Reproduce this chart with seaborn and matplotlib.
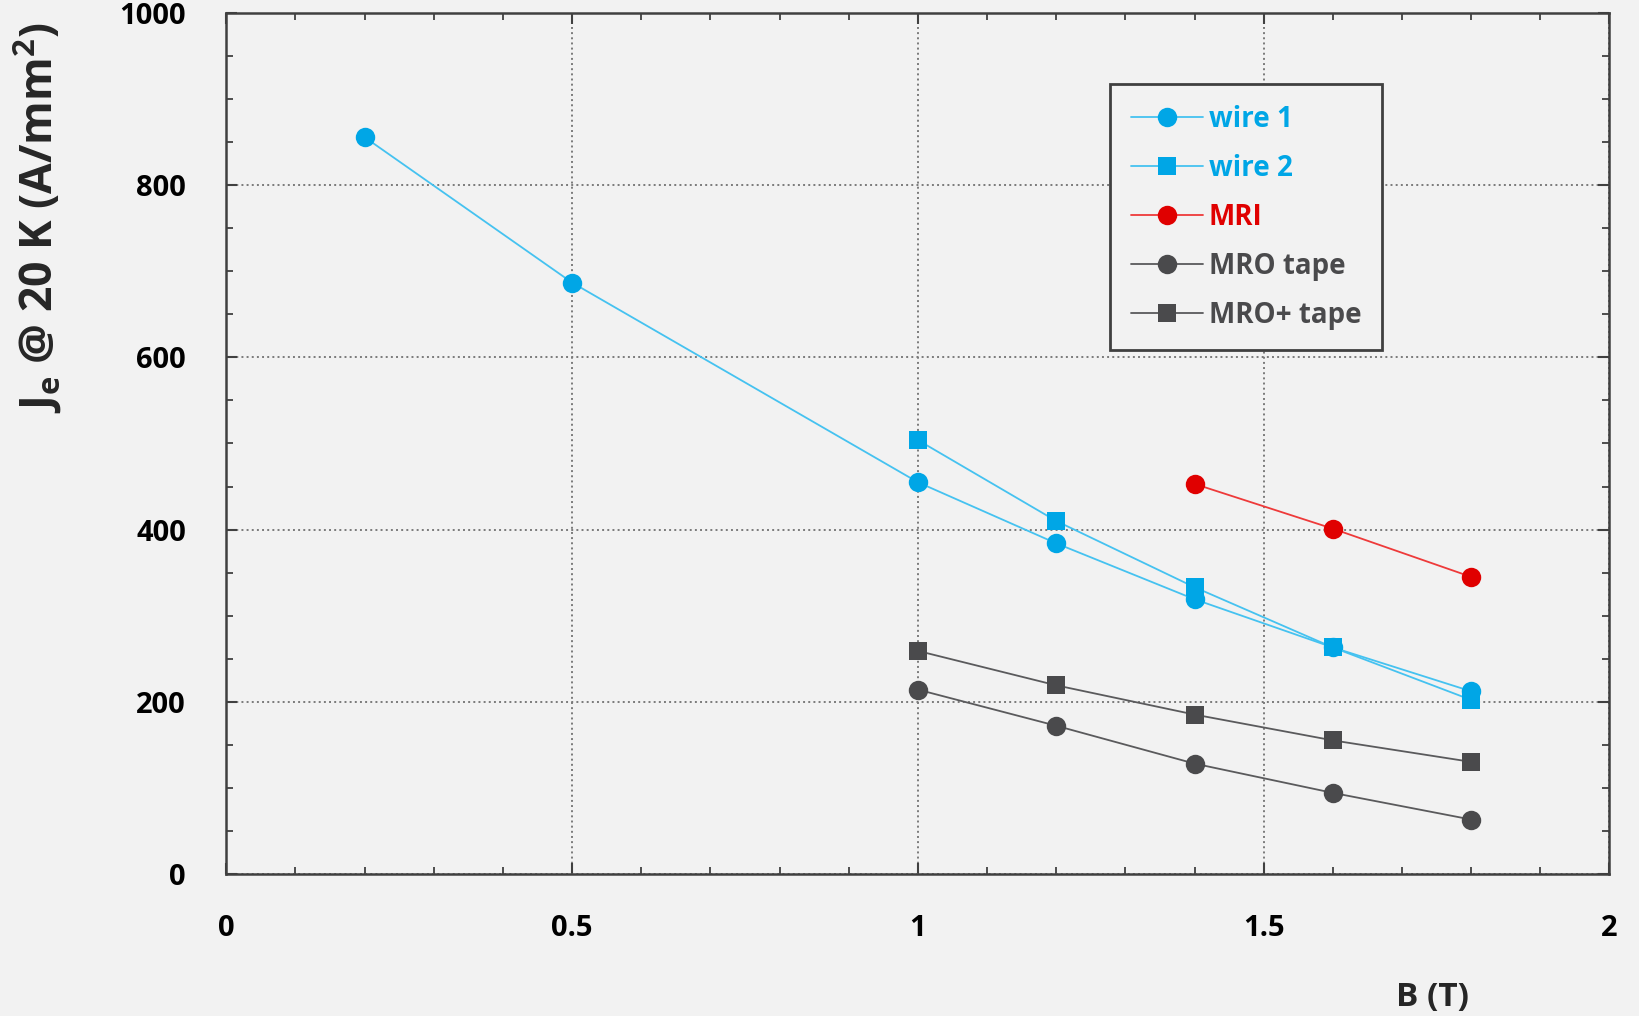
import numpy as np
import pandas as pd
import matplotlib
matplotlib.use("Agg")
import matplotlib.pyplot as plt
from matplotlib.ticker import MultipleLocator
import seaborn as sns

# ── datos ────────────────────────────────────────────────────────────────────
b_wire1 = [0.2, 0.5, 1.0, 1.2, 1.4, 1.6, 1.8]
je_wire1 = [856, 687, 455, 384, 319, 263, 212]

b_wire2 = [1.0, 1.2, 1.4, 1.6, 1.8]
je_wire2 = [504, 410, 333, 263, 202]

b_mri = [1.4, 1.6, 1.8]
je_mri = [453, 401, 345]

b_mro = [1.0, 1.2, 1.4, 1.6, 1.8]
je_mro = [214, 172, 128, 94, 63]

b_mro_plus = [1.0, 1.2, 1.4, 1.6, 1.8]
je_mro_plus = [259, 219, 185, 155, 130]

labels = ["wire 1", "wire 2", "MRI", "MRO tape", "MRO+ tape"]

BG = "#f2f2f2"
BLUE = "#00a6e6"
RED = "#e00000"
GRAY = "#4a4a4c"

sns.set_theme(style="ticks")
plt.rcParams["font.family"] = ["Open Sans", "DejaVu Sans"]
plt.rcParams["font.weight"] = "bold"
plt.rcParams["mathtext.fontset"] = "custom"
plt.rcParams["mathtext.rm"] = "Open Sans:bold"
plt.rcParams["mathtext.bf"] = "Open Sans:bold"
plt.rcParams["mathtext.it"] = "Open Sans:bold"
plt.rcParams["mathtext.default"] = "bf"

fig = plt.figure(figsize=(16.39, 10.16), dpi=100, facecolor=BG)
ax = fig.add_axes([0.138, 0.140, 0.844, 0.847])
ax.set_facecolor(BG)

series = [
    (b_wire1, je_wire1, "o", BLUE, "#45c2f0", 14),
    (b_wire2, je_wire2, "s", BLUE, "#45c2f0", 13),
    (b_mri, je_mri, "o", RED, "#ee3a3a", 14),
    (b_mro, je_mro, "o", GRAY, "#5a5a5c", 14),
    (b_mro_plus, je_mro_plus, "s", GRAY, "#5a5a5c", 13),
]

for (xs, ys, mk, mcol, lcol, ms), lab in zip(series, labels):
    sns.lineplot(x=xs, y=ys, ax=ax, color=lcol, linewidth=1.3, marker=mk,
                 markersize=ms, markerfacecolor=mcol, markeredgecolor=mcol,
                 markeredgewidth=0, label=lab, sort=False)

ax.set_xlim(0, 2)
ax.set_ylim(0, 1000)
ax.xaxis.set_major_locator(MultipleLocator(0.5))
ax.xaxis.set_minor_locator(MultipleLocator(0.1))
ax.yaxis.set_major_locator(MultipleLocator(200))
ax.yaxis.set_minor_locator(MultipleLocator(50))
ax.set_xticks([0, 0.5, 1, 1.5, 2])
ax.set_xticklabels(["0", "0.5", "1", "1.5", "2"])

ax.tick_params(which="both", direction="in", top=True, right=True,
               color="#404040", labelsize=21, labelcolor="black")
ax.tick_params(which="major", length=8, width=1.5, pad=29)
ax.tick_params(which="minor", length=5, width=1.3)
for lab in ax.get_xticklabels() + ax.get_yticklabels():
    lab.set_fontweight("bold")

ax.grid(True, which="major", linestyle=":", color="#7a7a7a", linewidth=1.4)
for sp in ax.spines.values():
    sp.set_color("#404040")
    sp.set_linewidth(1.8)

ax.set_ylabel("J$_{e}$ @ 20 K (A/mm$^{2}$)", fontsize=32, fontweight="bold")
ax.yaxis.set_label_coords(-0.117, 0.763)
ax.set_xlabel("B (T)", fontsize=24, fontweight="bold")
ax.xaxis.set_label_coords(0.872, -0.125)

leg = ax.legend(loc="upper left", bbox_to_anchor=(0.639, 0.918), fontsize=20,
                frameon=True, fancybox=False, facecolor=BG, edgecolor="#404040",
                borderpad=0.75, labelspacing=0.72, handlelength=2.6,
                handletextpad=0.2, borderaxespad=0)
leg.get_frame().set_linewidth(2)
leg.get_frame().set_alpha(1)
for txt, (_, _, _, mcol, _, _) in zip(leg.get_texts(), series):
    txt.set_color(mcol)
    txt.set_fontweight("bold")

fig.savefig("out.png", dpi=100, facecolor=BG)
